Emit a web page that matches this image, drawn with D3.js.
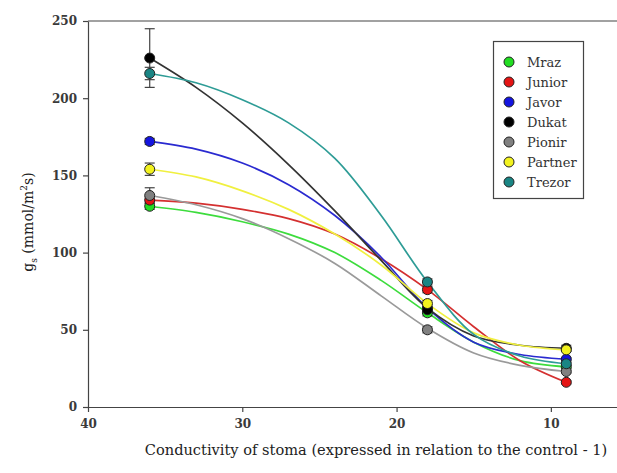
<!DOCTYPE html>
<html>
<head>
<meta charset="utf-8">
<script src="https://cdn.jsdelivr.net/npm/d3@7"></script>
<style>
  body { margin: 0; background: #fff; }
  svg { display: block; font-family: "DejaVu Serif", "Liberation Serif", serif; }
</style>
</head>
<body>
<div id="chart"></div>
<script>
// measured points (x = conductivity, three sampling levels)
const xValues = [36, 18, 9];
const cultivars = ['Mraz', 'Junior', 'Javor', 'Dukat', 'Pionir', 'Partner', 'Trezor'];
const colours = ['#22dd22', '#e41414', '#1414e0', '#000000', '#808080', '#f2f21e', '#1a8584'];
const lineColours = ['#3ddc3d', '#d43030', '#2a2ad0', '#333333', '#9a9a9a', '#f0f040', '#2e9c96'];

const mraz    = [130, 61, 26];
const junior  = [134, 76, 16];
const javor   = [172, 64, 31];
const dukat   = [226, 63, 38];
const pionir  = [137, 50, 23];
const partner = [154, 67, 37];
const trezor  = [216, 81, 28];

const mrazErr    = [2, 2, 1];
const juniorErr  = [2, 2, 1];
const javorErr   = [2, 2, 1];
const dukatErr   = [19, 2, 2];
const pionirErr  = [5, 2, 1];
const partnerErr = [4, 2, 1];
const trezorErr  = [4, 2, 1];

// fitted curves at these x positions
const fitX = [36, 33, 30, 27, 24, 21, 18, 15, 12, 9];
const mrazFit    = [130, 126, 120, 112, 100, 82, 61, 42, 30, 26];
const juniorFit  = [134, 132, 128, 122, 112, 96, 76, 52, 30, 16];
const javorFit   = [172, 167, 158, 144, 124, 97, 64, 42, 34, 31];
const dukatFit   = [226, 207, 184, 157, 127, 95, 64, 46, 40, 38];
const pionirFit  = [137, 131, 122, 109, 93, 72, 51, 35, 27, 23];
const partnerFit = [154, 149, 140, 128, 112, 92, 67, 48, 40, 37];
const trezorFit  = [216, 210, 199, 184, 161, 124, 81, 47, 33, 28];

const yTicks = [0, 50, 100, 150, 200, 250];
const xTicks = [40, 30, 20, 10];

const values = [mraz, junior, javor, dukat, pionir, partner, trezor];
const errors = [mrazErr, juniorErr, javorErr, dukatErr, pionirErr, partnerErr, trezorErr];
const fits = [mrazFit, juniorFit, javorFit, dukatFit, pionirFit, partnerFit, trezorFit];

const series = cultivars.map((name, i) => ({
    name,
    colour: colours[i],
    lineColour: lineColours[i],
    points: xValues.map((x, j) => ({x, y: values[i][j], err: errors[i][j]})),
    fit: fitX.map((x, j) => ({x, y: fits[i][j]}))
}));

const width = 617, height = 473;
const svg = d3.select('#chart').append('svg')
    .attr('width', width).attr('height', height);

const x = d3.scaleLinear().domain([40, 5]).range([88, 628]);
const y = d3.scaleLinear().domain([0, 250]).range([407, 21]);

// frame: top line + axes
svg.append('line')
    .attr('x1', x(40)).attr('x2', width + 5)
    .attr('y1', y(250)).attr('y2', y(250))
    .attr('stroke', '#444').attr('stroke-width', 1.2);

const axisStyle = g => {
    g.select('.domain').attr('stroke', '#444').attr('stroke-width', 1.2);
    g.selectAll('.tick line').attr('stroke', '#444').attr('stroke-width', 1.2);
    g.selectAll('.tick text')
        .attr('fill', '#3a3a3a')
        .style('font-family', '"DejaVu Serif", serif')
        .style('font-size', '12px')
        .style('font-weight', 'bold');
};

svg.append('g')
    .attr('transform', `translate(0,${y(0)})`)
    .call(d3.axisBottom(x).tickValues(xTicks).tickSize(5).tickSizeOuter(0).tickPadding(7))
    .call(axisStyle);

svg.append('g')
    .attr('transform', `translate(${x(40)},0)`)
    .call(d3.axisLeft(y).tickValues(yTicks).tickSize(5).tickSizeOuter(0).tickPadding(6))
    .call(axisStyle);

// axis titles
svg.append('text')
    .attr('x', 376).attr('y', 455)
    .attr('text-anchor', 'middle')
    .attr('fill', '#222')
    .style('font-size', '14.6px')
    .text('Conductivity of stoma (expressed in relation to the control - 1)');

const yTitle = svg.append('text')
    .attr('transform', `translate(33,${(y(0) + y(250)) / 2 + 8}) rotate(-90)`)
    .attr('text-anchor', 'middle')
    .attr('fill', '#222')
    .style('font-size', '14px');
yTitle.append('tspan').text('g');
yTitle.append('tspan').attr('dy', 4).style('font-size', '9px').text('s');
yTitle.append('tspan').attr('dy', -4).text(' (mmol/m');
yTitle.append('tspan').attr('dy', -6).style('font-size', '9px').text('2');
yTitle.append('tspan').attr('dy', 6).text('s)');

// fitted curves
const line = d3.line()
    .x(d => x(d.x))
    .y(d => y(d.y))
    .curve(d3.curveCatmullRom.alpha(0.5));

svg.append('g').selectAll('path').data(series).join('path')
    .attr('d', d => line(d.fit))
    .attr('fill', 'none')
    .attr('stroke', d => d.lineColour)
    .attr('stroke-width', 1.7);

// error bars
const bars = svg.append('g');
series.forEach(s => {
    s.points.forEach(p => {
        const g = bars.append('g').attr('stroke', '#444').attr('stroke-width', 1.2);
        g.append('line').attr('x1', x(p.x)).attr('x2', x(p.x))
            .attr('y1', y(p.y - p.err)).attr('y2', y(p.y + p.err));
        [p.y - p.err, p.y + p.err].forEach(v => {
            g.append('line').attr('x1', x(p.x) - 5).attr('x2', x(p.x) + 5)
                .attr('y1', y(v)).attr('y2', y(v));
        });
    });
});

// markers
svg.append('g').selectAll('g').data(series).join('g')
    .selectAll('circle').data(d => d.points.map(p => ({...p, colour: d.colour})))
    .join('circle')
    .attr('cx', d => x(d.x))
    .attr('cy', d => y(d.y))
    .attr('r', 5)
    .attr('fill', d => d.colour)
    .attr('stroke', '#222')
    .attr('stroke-width', 1);

// legend
const legend = svg.append('g');
legend.append('rect')
    .attr('x', 493.5).attr('y', 41.5)
    .attr('width', 90).attr('height', 157)
    .attr('fill', '#fff')
    .attr('stroke', '#444').attr('stroke-width', 1.2);

const items = legend.selectAll('g.item').data(series).join('g')
    .attr('class', 'item')
    .attr('transform', (d, i) => `translate(0,${62 + i * 20})`);
items.append('circle')
    .attr('cx', 509).attr('cy', 0).attr('r', 5)
    .attr('fill', d => d.colour)
    .attr('stroke', '#222').attr('stroke-width', 1);
items.append('text')
    .attr('x', 527).attr('y', 5)
    .attr('fill', '#333')
    .style('font-size', '13px')
    .text(d => d.name);
</script>
</body>
</html>
